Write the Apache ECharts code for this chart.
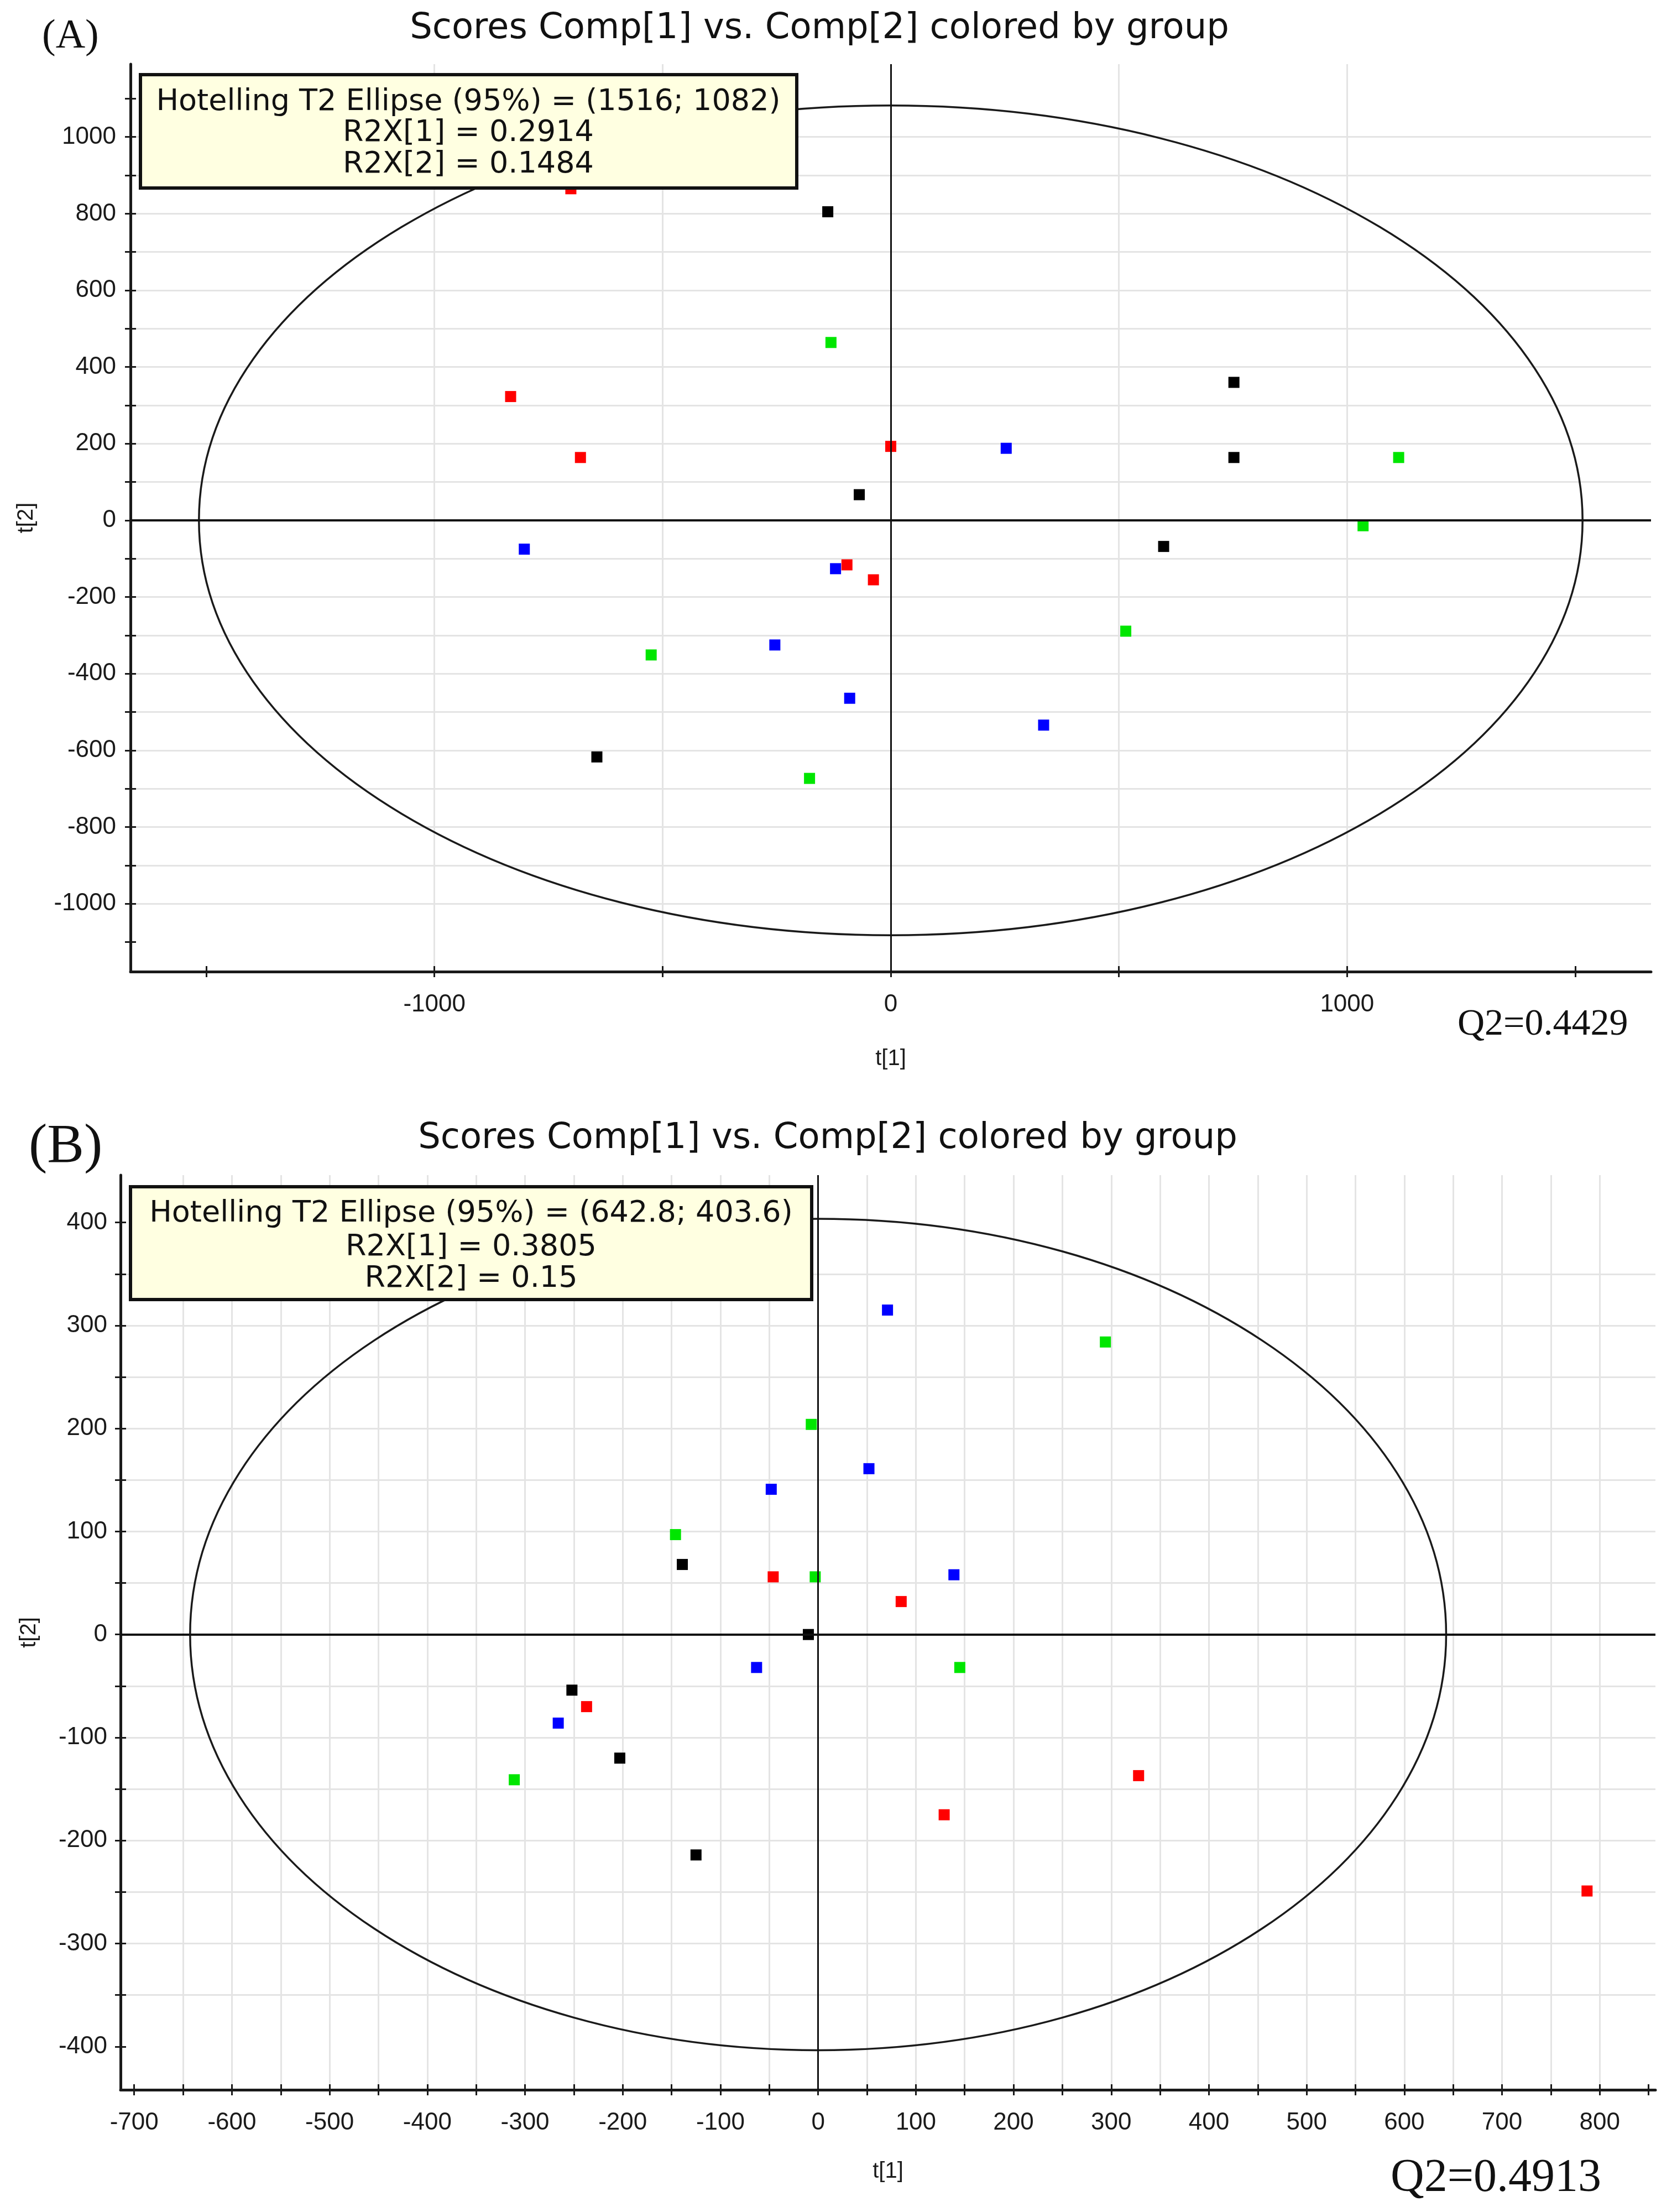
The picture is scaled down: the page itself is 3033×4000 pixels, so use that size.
<!DOCTYPE html>
<html>
<head>
<meta charset="utf-8">
<script src="https://cdn.jsdelivr.net/npm/echarts@6/dist/echarts.min.js"></script>
<style>
  html, body { margin: 0; padding: 0; background: #fff; }
  #chart { width: 3033px; height: 4000px; }
</style>
</head>
<body>
<div id="chart"></div>
<script>
// panel A scores (t[1], t[2])
const aRed = [[-701, 865], [-833, 323], [-680, 164], [0, 193], [-96, -116], [-38, -155]]
const aBlack = [[-138, 805], [-69, 67], [752, 360], [752, 164], [598, -68], [-644, -617]]
const aGreen = [[-131, 464], [1113, 164], [1035, -14], [515, -289], [-525, -351], [-178, -673]]
const aBlue = [[253, 188], [-803, -75], [-121, -126], [-254, -325], [-90, -464], [335, -534]]
const aEllipse = [1516, 1082]

// panel B scores
const bRed = [[-46, 56], [85, 32], [-237, -70], [328, -137], [129, -175], [787, -249]]
const bBlack = [[-139, 68], [-10, 0], [-252, -54], [-203, -120], [-125, -214]]
const bGreen = [[294, 284], [-7, 204], [-146, 97], [-3, 56], [145, -32], [-311, -141]]
const bBlue = [[71, 315], [52, 161], [-48, 141], [139, 58], [-63, -32], [-266, -86]]
const bEllipse = [642.8, 403.6]

// axis ticks and labels
const aXTicks = [-1500, -1000, -500, 0, 500, 1000, 1500]
const aXLabels = [-1000, 0, 1000]
const aYTicks = [-1100, -1000, -900, -800, -700, -600, -500, -400, -300, -200, -100, 0,
  100, 200, 300, 400, 500, 600, 700, 800, 900, 1000, 1100]
const aYLabels = [-1000, -800, -600, -400, -200, 0, 200, 400, 600, 800, 1000]
const bXTicks = [-700, -650, -600, -550, -500, -450, -400, -350, -300, -250, -200, -150, -100, -50, 0,
  50, 100, 150, 200, 250, 300, 350, 400, 450, 500, 550, 600, 650, 700, 750, 800, 850]
const bXLabels = [-700, -600, -500, -400, -300, -200, -100, 0, 100, 200, 300, 400, 500, 600, 700, 800]
const bYTicks = [-400, -350, -300, -250, -200, -150, -100, -50, 0, 50, 100, 150, 200, 250, 300, 350, 400]
const bYLabels = [-400, -300, -200, -100, 0, 100, 200, 300, 400]

const groupColor = {red: '#ff0000', black: '#000000', green: '#00e600', blue: '#0000ff'}
const axisColor = '#1a1a1a'
const gridColor = '#e4e4e4'
const labelFont = 'Liberation Sans'
const boxFont = 'DejaVu Sans'

const mainAxis = (cfg) => ({
  type: 'value',
  gridIndex: cfg.grid,
  position: cfg.position,
  min: cfg.min,
  max: cfg.max,
  name: cfg.name,
  nameLocation: 'middle',
  nameGap: cfg.nameGap,
  nameTextStyle: {fontFamily: labelFont, fontSize: 40, color: axisColor},
  axisLine: {show: true, onZero: false, lineStyle: {color: axisColor, width: 5}},
  axisTick: {show: true, inside: false, length: 10, customValues: cfg.ticks, lineStyle: {color: axisColor, width: 3}},
  axisLabel: {
    show: true, customValues: cfg.labels, margin: cfg.margin,
    fontFamily: labelFont, fontSize: 44, color: axisColor,
    formatter: v => String(v),
  },
  splitLine: {show: true, showMinLine: false, showMaxLine: false, lineStyle: {color: gridColor, width: 3}},
})

// twin axis only to draw the inner half of the crossing ticks
const tickAxis = (cfg) => ({
  type: 'value',
  gridIndex: cfg.grid,
  position: cfg.position,
  min: cfg.min,
  max: cfg.max,
  axisLine: {show: false, onZero: false},
  axisTick: {show: true, inside: true, length: 10, customValues: cfg.ticks, lineStyle: {color: axisColor, width: 3}},
  axisLabel: {show: false},
  splitLine: {show: false},
})

const aX = {grid: 0, position: 'bottom', min: -1666, max: 1666, ticks: aXTicks, labels: aXLabels, margin: 38, name: 't[1]', nameGap: 138}
const aY = {grid: 0, position: 'left', min: -1177, max: 1190, ticks: aYTicks, labels: aYLabels, margin: 26, name: 't[2]', nameGap: 168}
const bX = {grid: 1, position: 'bottom', min: -714, max: 857, ticks: bXTicks, labels: bXLabels, margin: 38, name: 't[1]', nameGap: 128}
const bY = {grid: 1, position: 'left', min: -442, max: 446, ticks: bYTicks, labels: bYLabels, margin: 24, name: 't[2]', nameGap: 145}

const ellipseSeries = (idx, axes) => ({
  type: 'custom',
  xAxisIndex: idx,
  yAxisIndex: idx,
  z: 2,
  silent: true,
  data: [[0, 0, axes[0], axes[1]]],
  renderItem: (params, api) => {
    const c = api.coord([api.value(0), api.value(1)])
    const s = api.size([api.value(2), api.value(3)])
    return {
      type: 'ellipse',
      shape: {cx: c[0], cy: c[1], rx: s[0], ry: s[1]},
      style: {fill: 'none', stroke: '#1a1a1a', lineWidth: 3.5},
    }
  },
  markLine: {
    silent: true,
    symbol: 'none',
    label: {show: false},
    data: [
      {xAxis: 0, lineStyle: {color: '#111', width: 3, type: 'solid'}},
      {yAxis: 0, lineStyle: {color: '#111', width: 4, type: 'solid'}},
    ],
  },
})

const scatter = (idx, data, color) => ({
  type: 'scatter',
  xAxisIndex: idx,
  yAxisIndex: idx,
  z: 3,
  symbol: 'rect',
  symbolSize: 20,
  itemStyle: {color, opacity: 1},
  data,
})

const boxText = (x, y, text) => ({
  type: 'text',
  x, y, z: 101,
  style: {text, fontFamily: boxFont, fontSize: 54, fill: '#111', align: 'center', verticalAlign: 'middle'},
})

const freeText = (x, y, text, family, size, align) => ({
  type: 'text',
  x, y, z: 101,
  style: {text, fontFamily: family, fontSize: size, fill: '#111', align: align || 'left', verticalAlign: 'middle'},
})

const option = {
  backgroundColor: '#fff',
  animation: false,
  grid: [
    {left: 236, top: 116, width: 2750, height: 1641},
    {left: 218, top: 2125, width: 2776, height: 1654},
  ],
  xAxis: [mainAxis(aX), mainAxis(bX), tickAxis(aX), tickAxis(bX)],
  yAxis: [mainAxis(aY), mainAxis(bY), tickAxis(aY), tickAxis(bY)],
  series: [
    ellipseSeries(0, aEllipse),
    scatter(0, aBlue, groupColor.blue),
    scatter(0, aGreen, groupColor.green),
    scatter(0, aBlack, groupColor.black),
    scatter(0, aRed, groupColor.red),
    ellipseSeries(1, bEllipse),
    scatter(1, bBlue, groupColor.blue),
    scatter(1, bGreen, groupColor.green),
    scatter(1, bBlack, groupColor.black),
    scatter(1, bRed, groupColor.red),
  ],
  graphic: [
    freeText(1482, 52, 'Scores Comp[1] vs. Comp[2] colored by group', boxFont, 64, 'center'),
    freeText(76, 67, '(A)', 'Liberation Serif', 74),
    freeText(2636, 1853, 'Q2=0.4429', 'Liberation Serif', 68),
    {
      type: 'rect', z: 100,
      shape: {x: 254, y: 135, width: 1187, height: 205},
      style: {fill: '#ffffe1', stroke: '#111', lineWidth: 6},
    },
    boxText(847, 185, 'Hotelling T2 Ellipse (95%) = (1516; 1082)'),
    boxText(847, 241, 'R2X[1] = 0.2914'),
    boxText(847, 298, 'R2X[2] = 0.1484'),

    freeText(1497, 2059, 'Scores Comp[1] vs. Comp[2] colored by group', boxFont, 64, 'center'),
    freeText(52, 2075, '(B)', 'Liberation Serif', 100),
    freeText(2515, 3940, 'Q2=0.4913', 'Liberation Serif', 84),
    {
      type: 'rect', z: 100,
      shape: {x: 236, y: 2146, width: 1232, height: 204},
      style: {fill: '#ffffe1', stroke: '#111', lineWidth: 6},
    },
    boxText(852, 2195, 'Hotelling T2 Ellipse (95%) = (642.8; 403.6)'),
    boxText(852, 2256, 'R2X[1] = 0.3805'),
    boxText(852, 2313, 'R2X[2] = 0.15'),
  ],
}

const chart = echarts.init(document.getElementById('chart'))
chart.setOption(option)
</script>
</body>
</html>
